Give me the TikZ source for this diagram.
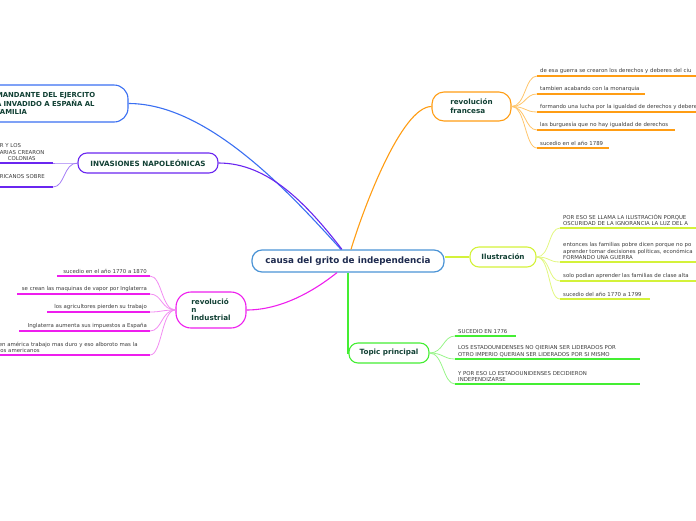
\documentclass[tikz,border=0pt]{standalone}
\usepackage{fontspec}
\setmainfont{DejaVu Sans}
\usetikzlibrary{calc}
\definecolor{cblue}{HTML}{4B94D6}
\definecolor{ctext}{HTML}{1E2B4F}
\definecolor{ntext}{HTML}{114034}
\definecolor{ltext}{HTML}{3C3C3C}
\definecolor{bblue}{HTML}{3A6FF2}
\definecolor{cpurple}{HTML}{6A26F0}
\definecolor{cpurpleL}{HTML}{A37CF5}
\definecolor{cmag}{HTML}{EE1EEE}
\definecolor{cmagL}{HTML}{F28CF2}
\definecolor{corange}{HTML}{FF9D14}
\definecolor{corangeL}{HTML}{FFC56A}
\definecolor{cyellow}{HTML}{D4F23A}
\definecolor{cyellowL}{HTML}{E2F77F}
\definecolor{cgreen}{HTML}{44EE33}
\definecolor{cgreenL}{HTML}{99F58A}
\begin{document}
\begin{tikzpicture}[x=1pt,y=-1pt,
  mainbox/.style={draw=cblue, line width=1.2pt, fill=white, rounded corners=10pt, minimum width=192pt, minimum height=22pt, inner sep=0pt, text=ctext, font=\fontsize{8.8}{10}\selectfont\bfseries},
  branch/.style={draw, line width=1.1pt, fill=white, inner sep=0pt, text=ntext, font=\fontsize{7.2}{8}\selectfont\bfseries, align=left},
  leaf/.style={text=ltext, font=\fontsize{5.4}{6.5}\selectfont, inner xsep=3pt, inner ysep=2pt, align=left},
  ul/.style={line width=1.6pt},
  fan/.style={line width=0.8pt},
  link/.style={line width=1.1pt},
]
\useasboundingbox (0,0) rectangle (696,520);
\clip (0,0) rectangle (696,520);

% central topic
\node[mainbox] (c) at (348,261) {causa del grito de independencia};

% main branches
\node[branch, draw=bblue, rounded corners=14pt, minimum width=154pt, minimum height=37pt, text width=110pt, font=\fontsize{6.9}{8.6}\selectfont\bfseries] (tl) at (51,103.5) {MANDANTE DEL EJERCITO\\A INVADIDO A ESPAÑA AL\\FAMILIA};
\node[branch, draw=cpurple, rounded corners=9pt, minimum width=140pt, minimum height=20pt] (inv) at (148,163) {INVASIONES NAPOLEÓNICAS};
\node[branch, draw=cmag, rounded corners=15pt, minimum width=70pt, minimum height=36pt] (ri) at (211,310) {revolució\\n\\Industrial};
\node[branch, draw=corange, rounded corners=12pt, minimum width=79pt, minimum height=29pt, font=\fontsize{7.2}{9}\selectfont\bfseries] (rf) at (471.5,106.5) {revolución\\francesa};
\node[branch, draw=cyellow, rounded corners=9pt, minimum width=66pt, minimum height=20pt] (il) at (503,257) {Ilustración};
\node[branch, draw=cgreen, rounded corners=9pt, minimum width=80pt, minimum height=20pt] (tp) at (389,353) {Topic principal};

% links from centre
\draw[link, bblue] (tl.east) .. controls +(80,0) and +(-50,-55) .. ($(c.north)+(-7,0)$);
\draw[link, cpurple] (inv.east) .. controls +(50,0) and +(-35,-45) .. ($(c.north)+(-6,0)$);
\draw[link, corange] ($(c.north)+(3,0)$) .. controls +(12,-40) and +(-30,0) .. (rf.west);
\draw[link, cmag] ($(c.south)+(-11,0)$) .. controls +(-15,12) and +(40,0) .. (ri.east);
\draw[link, cgreen] (c.south) |- (tp.west);
\draw[link, cyellow] (c.east |- il.west) -- (il.west);

% revolucion francesa leaves
\node[leaf, anchor=south west] (f1) at (537,76) {de esa guerra se crearon los derechos y deberes del ciu};
\node[leaf, anchor=south west] (f2) at (537,94) {tambien acabando con la monarquia};
\node[leaf, anchor=south west] (f3) at (537,112) {formando una lucha por la igualdad de derechos y debere};
\node[leaf, anchor=south west] (f4) at (537,130) {las burguesía que no hay igualdad de derechos};
\node[leaf, anchor=south west] (f5) at (537,148) {sucedio en el año 1789};
\foreach \n/\l in {f1/170,f2/108,f3/170,f4/138,f5/72}{
  \draw[fan, corangeL] (rf.east) .. controls +(14,0) and +(-12,0) .. (\n.south west);
  \draw[ul, corange] (\n.south west) -- ++(\l,0);
}

% ilustracion leaves
\node[leaf, anchor=south west] (l1) at (560,228) {POR ESO SE LLAMA LA ILUSTRACIÓN PORQUE\\OSCURIDAD DE LA IGNORANCIA LA LUZ DEL A};
\node[leaf, anchor=south west] (l2) at (560,262) {entonces las familias pobre dicen porque no po\\aprender tomar decisiones políticas, económica\\FORMANDO UNA GUERRA};
\node[leaf, anchor=south west] (l3) at (560,281) {solo podian aprender las familias de clase alta};
\node[leaf, anchor=south west] (l4) at (560,299) {sucedio del año 1770 a 1799};
\foreach \n/\l in {l1/150,l2/150,l3/150,l4/90}{
  \draw[fan, cyellowL] (il.east) .. controls +(14,0) and +(-12,0) .. (\n.south west);
  \draw[ul, cyellow] (\n.south west) -- ++(\l,0);
}

% topic principal leaves
\node[leaf, anchor=south west] (t1) at (455,336) {SUCEDIO EN 1776};
\node[leaf, anchor=south west] (t2) at (455,359) {LOS ESTADOUNIDENSES NO QIERIAN SER LIDERADOS POR\\OTRO IMPERIO QUERIAN SER LIDERADOS POR SI MISMO};
\node[leaf, anchor=south west] (t3) at (455,384) {Y POR ESO LO ESTADOUNIDENSES DECIDIERON\\INDEPENDIZARSE};
\foreach \n/\l in {t1/61,t2/185,t3/185}{
  \draw[fan, cgreenL] (tp.east) .. controls +(14,0) and +(-12,0) .. (\n.south west);
  \draw[ul, cgreen] (\n.south west) -- ++(\l,0);
}

% revolucion industrial leaves
\node[leaf, anchor=south east, align=right] (i1) at (150,276) {sucedio en el año 1770 a 1870};
\node[leaf, anchor=south east, align=right] (i2) at (150,294) {se crean las maquinas de vapor por Inglaterra};
\node[leaf, anchor=south east, align=right] (i3) at (150,312) {los agricultores pierden su trabajo};
\node[leaf, anchor=south east, align=right] (i4) at (150,331) {Inglaterra aumenta sus impuestos a España};
\node[leaf, anchor=south east, align=left, text width=148pt] (i5) at (150,355) {en américa trabajo mas duro y eso alboroto mas la\\los americanos};
\foreach \n/\l in {i1/93,i2/133,i3/103,i4/131,i5/160}{
  \draw[fan, cmagL] (ri.west) .. controls +(-14,0) and +(12,0) .. (\n.south east);
  \draw[ul, cmag] (\n.south east) -- ++(-\l,0);
}

% invasiones leaves
\node[leaf, anchor=south east, text width=50pt] (p1) at (53,163) {R Y LOS\\ARIAS CREARON\\\hspace*{8pt}COLONIAS};
\node[leaf, anchor=south east, text width=50pt] (p2) at (53,187) {RICANOS SOBRE\\\mbox{}};
\foreach \n in {p1,p2}{
  \draw[fan, cpurpleL] (inv.west) .. controls +(-14,0) and +(12,0) .. (\n.south east);
  \draw[ul, cpurple] (\n.south east) -- ++(-60,0);
}
\end{tikzpicture}
\end{document}
